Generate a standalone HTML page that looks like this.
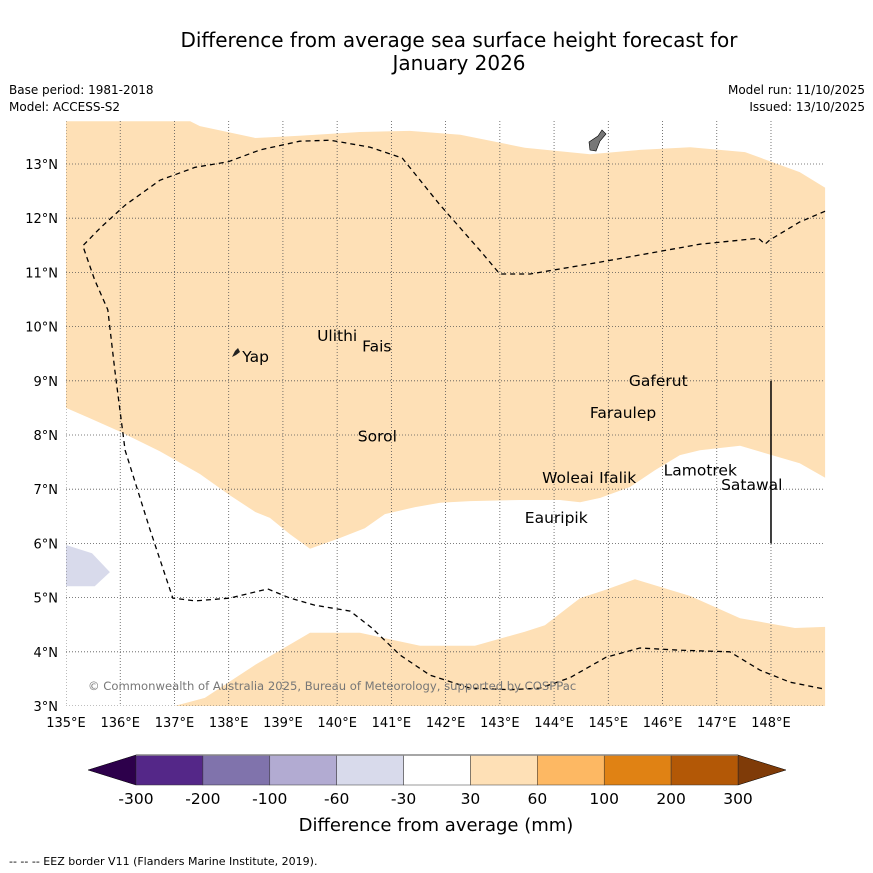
<!DOCTYPE html>
<html><head><meta charset="utf-8"><style>
body{margin:0;background:#fff;}
svg{display:block;font-family:"DejaVu Sans","Liberation Sans",sans-serif;}
</style></head><body>
<svg id="chart" width="873" height="873" viewBox="0 0 873 873">
<rect width="873" height="873" fill="#fff"/>
<text x="459" y="47" font-size="20" text-anchor="middle">Difference from average sea surface height forecast for</text>
<text x="459" y="70" font-size="20" text-anchor="middle">January 2026</text>
<text x="9" y="94" font-size="12">Base period: 1981-2018</text>
<text x="9" y="111" font-size="12">Model: ACCESS-S2</text>
<text x="865" y="94" font-size="12" text-anchor="end">Model run: 11/10/2025</text>
<text x="865" y="111" font-size="12" text-anchor="end">Issued: 13/10/2025</text>
<g id="map"></g>
<g id="cbar"></g>
<text x="436" y="831" font-size="18" text-anchor="middle">Difference from average (mm)</text>
<text x="9" y="865" font-size="11">--  --  -- EEZ border V11 (Flanders Marine Institute, 2019).</text>
</svg>
<script>
const lonTicks=[135,136,137,138,139,140,141,142,143,144,145,146,147,148];
const latTicks=[3,4,5,6,7,8,9,10,11,12,13];
const upperRegion=[[135,13.79],[137.29,13.79],[137.47,13.70],[138.49,13.48],[139.31,13.52],[140.42,13.59],[141.34,13.61],[142.27,13.54],[143.46,13.30],[144.66,13.18],[145.58,13.26],[146.51,13.31],[147.52,13.22],[148.53,12.85],[149,12.56],[149,7.21],[148.53,7.48],[147.43,7.80],[146.69,7.72],[146.32,7.63],[145.86,7.35],[145.40,7.04],[144.85,6.84],[144.48,6.76],[144.11,6.80],[143.37,6.80],[142.45,6.78],[141.90,6.75],[141.44,6.67],[140.88,6.54],[140.51,6.28],[140.05,6.10],[139.50,5.90],[139.13,6.17],[138.76,6.47],[138.49,6.58],[138.02,6.89],[137.47,7.28],[136.73,7.70],[136.00,8.06],[135.44,8.31],[135,8.50]];
const lowerRegion=[[137.0,3.0],[137.56,3.15],[138.49,3.76],[139.50,4.35],[140.42,4.35],[141.53,4.11],[142.54,4.11],[143.46,4.37],[143.83,4.49],[144.48,4.99],[144.94,5.14],[145.49,5.34],[146.51,5.03],[147.43,4.62],[148.44,4.44],[149,4.46],[149,3]];
const negRegion=[[135,5.97],[135.48,5.82],[135.81,5.47],[135.53,5.21],[135,5.21]];
const eezLine=[[149,12.13],[148.53,11.93],[147.98,11.60],[147.89,11.52],[147.77,11.63],[146.69,11.52],[144.85,11.19],[143.56,10.97],[143.0,10.97],[142.63,11.41],[141.90,12.24],[141.20,13.11],[140.61,13.31],[139.87,13.44],[139.31,13.42],[138.58,13.26],[137.99,13.04],[137.38,12.94],[136.73,12.70],[136.09,12.24],[135.63,11.82],[135.31,11.49],[135.53,10.86],[135.77,10.31],[135.90,9.20],[136.09,7.72],[136.55,6.25],[136.97,4.99],[137.38,4.94],[138.02,4.99],[138.72,5.16],[139.13,4.99],[139.59,4.86],[140.24,4.75],[140.64,4.44],[141.16,3.94],[141.71,3.57],[142.45,3.33],[143.19,3.30],[143.74,3.33],[144.29,3.52],[144.96,3.90],[145.58,4.07],[146.32,4.03],[147.24,4.00],[147.80,3.66],[148.35,3.44],[149,3.31]];
const islandNames=["Yap","Ulithi","Fais","Sorol","Gaferut","Faraulep","Woleai","Ifalik","Lamotrek","Satawal","Eauripik"];
const islandLon=[138.25,139.63,140.46,140.38,145.38,144.66,143.78,144.83,146.02,147.08,143.46];
const islandLat=[9.40,9.79,9.60,7.94,8.96,8.37,7.17,7.17,7.31,7.04,6.43];
const cbLevels=["-300","-200","-100","-60","-30","30","60","100","200","300"];
const cbColors=["#542788","#8073ac","#b2abd2","#d8daeb","#ffffff","#fee0b6","#fdb863","#e08214","#b35806"];
const cbLow="#2d004b",cbHigh="#7f3b08";

const NS="http://www.w3.org/2000/svg";
const X0=66,Y0=706,K=54.2;
const x=lon=>X0+(lon-135)*54.23;
const y=lat=>Y0-(lat-3)*K;
function mk(t,a,p){const e=document.createElementNS(NS,t);for(const k in a)e.setAttribute(k,a[k]);p.appendChild(e);return e;}
const map=document.getElementById('map');
const pts=arr=>arr.map(p=>x(p[0]).toFixed(1)+','+y(p[1]).toFixed(1)).join(' ');
const cp=mk('clipPath',{id:'clip'},map);mk('rect',{x:x(135),y:121,width:x(149)-x(135),height:Y0-121},cp);
const g=mk('g',{'clip-path':'url(#clip)'},map);
let e=mk('polygon',{points:pts(upperRegion),fill:'#fee0b6'},g);


e=mk('polygon',{points:pts(lowerRegion),fill:'#fee0b6'},g);


e=mk('polygon',{points:pts(negRegion),fill:'#d8daeb'},g);


lonTicks.forEach(l=>{
  const ln=mk('line',{x1:x(l),x2:x(l),y1:121,y2:Y0,stroke:'#555','stroke-width':0.8,'stroke-dasharray':'1,2'},g);
  
  
  const t=mk('text',{x:x(l),y:727,'font-size':13,'text-anchor':'middle'},map);t.textContent=l+'°E';
  
  
});
latTicks.forEach(l=>{
  const ln=mk('line',{x1:X0,x2:825,y1:y(l),y2:y(l),stroke:'#555','stroke-width':0.8,'stroke-dasharray':'1,2'},g);
  
  
  const t=mk('text',{x:58,y:y(l)+5,'font-size':13,'text-anchor':'end'},map);t.textContent=l+'°N';
  
  
});
e=mk('polyline',{points:pts(eezLine),fill:'none',stroke:'#000','stroke-width':1.3,'stroke-dasharray':'5,4'},g);


e=mk('line',{x1:x(148),x2:x(148),y1:y(9),y2:y(6),stroke:'#000','stroke-width':1.5},g);


e=mk('polygon',{points:'589,142 598,136 602,130 606,134 600,141 596,151 590,150',fill:'#777',stroke:'#000','stroke-width':0.6},g);


e=mk('polygon',{points:'232,357 235,351 238,348 240,352 236,355',fill:'#222'},g);


islandNames.forEach((n,i)=>{
  const t=mk('text',{x:x(islandLon[i]),y:y(islandLat[i])+3,'font-size':15.5},map);t.textContent=n;
  
  
});
e=mk('text',{x:88,y:690,'font-size':11.6,fill:'#777'},map);e.textContent='© Commonwealth of Australia 2025, Bureau of Meteorology, supported by COSPPac';


const cb=document.getElementById('cbar');
const cx0=136,cx1=738,cy=755,ch=30,bw=(cx1-cx0)/cbColors.length;
e=mk('polygon',{points:`${cx0},${cy} ${cx0},${cy+ch} 88,${cy+ch/2}`,fill:cbLow,stroke:'#000','stroke-width':0.5},cb);


e=mk('polygon',{points:`${cx1},${cy} ${cx1},${cy+ch} 786,${cy+ch/2}`,fill:cbHigh,stroke:'#000','stroke-width':0.5},cb);


cbColors.forEach((c,i)=>{
  const r=mk('rect',{x:cx0+i*bw,y:cy,width:bw,height:ch,fill:c,stroke:'#333','stroke-width':0.5},cb);
  
  
});
mk('line',{x1:cx0,x2:cx1,y1:cy,y2:cy,stroke:'#888','stroke-width':1.5},cb);
cbLevels.forEach((l,i)=>{
  const t=mk('text',{x:cx0+i*bw,y:804,'font-size':15.5,'text-anchor':'middle'},cb);t.textContent=l;
  
  
});
</script>
</body></html>
